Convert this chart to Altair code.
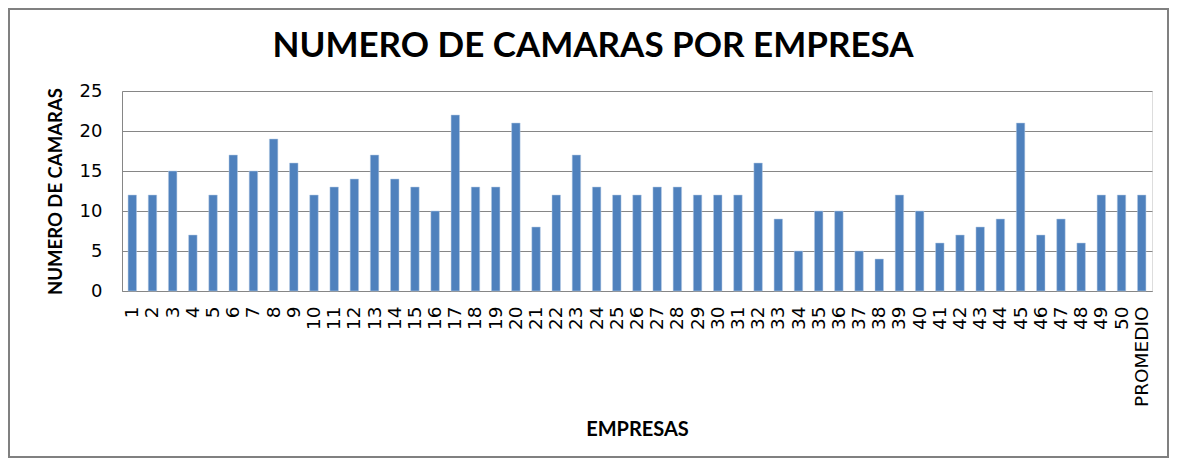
import altair as alt
import pandas as pd

empresas = [str(i) for i in range(1, 51)] + ["PROMEDIO"]
camaras = [12, 12, 15, 7, 12, 17, 15, 19, 16, 12,
           13, 14, 17, 14, 13, 10, 22, 13, 13, 21,
           8, 12, 17, 13, 12, 12, 13, 13, 12, 12,
           12, 16, 9, 5, 10, 10, 5, 4, 12, 10,
           6, 7, 8, 9, 21, 7, 9, 6, 12, 12,
           12]
titulo = "NUMERO DE CAMARAS POR EMPRESA"

df = pd.DataFrame({"empresa": empresas, "camaras": camaras})

bars = alt.Chart(df).mark_bar(color="#4F81BD", stroke="#B9CDE5", strokeWidth=0.5).encode(
    x=alt.X("empresa:N", sort=empresas,
            scale=alt.Scale(paddingInner=0.58, paddingOuter=0.3),
            axis=alt.Axis(title="EMPRESAS", labelAngle=-90, labelAlign="right",
                          labelBaseline="middle", labelFont="DejaVu Sans", labelFontSize=18.5,
                          labelColor="#000000", labelPadding=15, ticks=False,
                          titleFont="Lato", titleFontSize=20, titleFontWeight="bold",
                          titleColor="#000000", titlePadding=13,
                          domainColor="#868686", grid=False)),
    y=alt.Y("camaras:Q", scale=alt.Scale(domain=[0, 25]),
            axis=alt.Axis(title="NUMERO DE  CAMARAS", values=[0, 5, 10, 15, 20, 25],
                          labelFont="DejaVu Sans", labelFontSize=18, labelColor="#000000",
                          labelPadding=20, ticks=False,
                          titleFont="Lato", titleFontSize=18.5, titleFontWeight="bold",
                          titleColor="#000000", titlePadding=14,
                          domainColor="#868686",
                          gridColor="#868686", gridWidth=1)),
)

title_layer = alt.Chart(alt.Data(values=[{"t": titulo}])).mark_text(
    font="Lato", fontSize=35, fontWeight="bold", color="#000000",
    align="center", baseline="middle"
).encode(
    text="t:N", x=alt.value(471), y=alt.value(-45)
)

border = alt.Chart(alt.Data(values=[{}])).mark_rect(
    fillOpacity=0, stroke="#808080", strokeWidth=2
).encode(
    x=alt.value(-113), x2=alt.value(1046), y=alt.value(-82), y2=alt.value(366)
)

chart = alt.layer(bars, title_layer, border).properties(
    width=1030, height=200,
    padding={"left": 114, "top": 83, "right": 19, "bottom": 167},
    autosize=alt.AutoSizeParams(type="none"),
).configure_view(stroke=None).configure(background="#ffffff")

chart.save("out.html", embed_options={"renderer": "svg", "actions": False})
